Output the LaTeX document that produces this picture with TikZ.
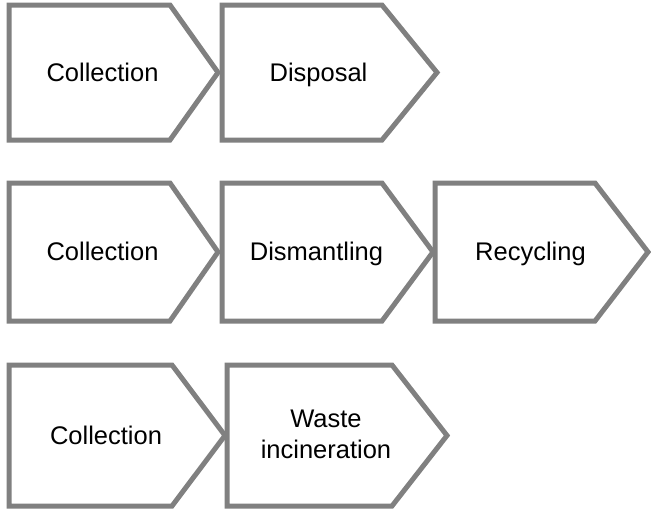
\documentclass[tikz,border=0pt]{standalone}
\usepackage{fontspec}
\setmainfont{Liberation Sans}
\usetikzlibrary{positioning}
\definecolor{stagegray}{RGB}{128,128,128}

\begin{document}
\begin{tikzpicture}[x=1pt,y=-1pt,
        stage/.style={draw=stagegray,line width=5pt,line join=miter},
        stagetext/.style={font=\fontsize{25.5}{31}\selectfont,align=center,
          text height=18pt,text depth=5pt,inner sep=0pt}
      ]
      \useasboundingbox (0,0) rectangle (651,512);

      % the stages: name / left / top / width / tip / height / shift / text
      \foreach \name/\x/\t/\w/\d/\h/\dy/\txt in {
          coll1/9/5/209/48/135/2/Collection,
          disp/222/5/215/55/135/2/Disposal,
          coll2/9/183/209/48/138/2/Collection,
          dism/222/183/211/51/138/2/Dismantling,
          recy/435/183/213/53/138/2/Recycling,
          coll3/9/365/216/53/141/2/Collection,
          incin/227/365/220/55/141/16/{Waste\\incineration}}
      {
        \draw[stage] (\x,\t) -- ++(\w-\d,0) -- ++(\d,\h/2)
          -- ++(-\d,\h/2) -- ++(\d-\w,0) -- cycle;
        \node[stagetext] (\name) at (\x+\w/2-11,\t+\h/2+\dy) {\txt};
      }
\end{tikzpicture}
\end{document}
